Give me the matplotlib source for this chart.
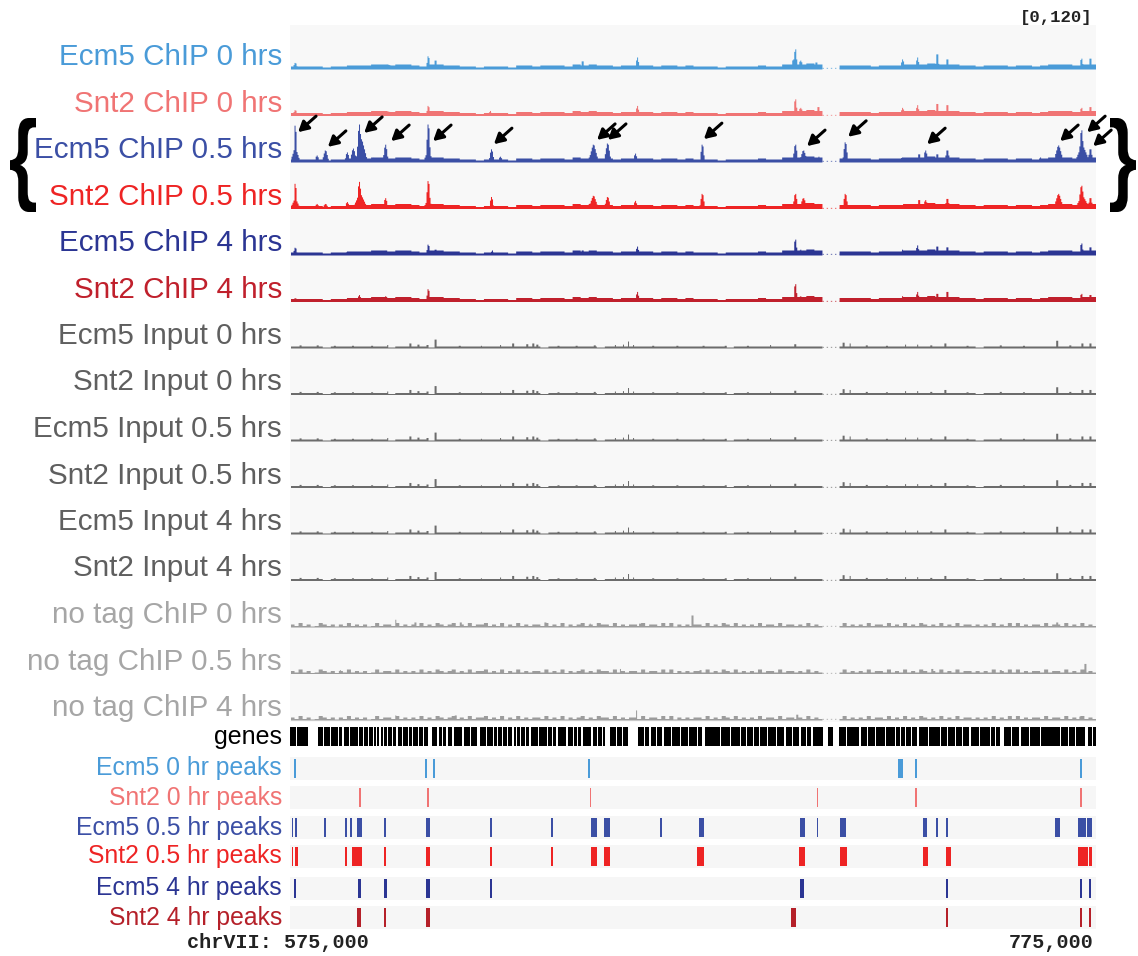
import numpy as np
import matplotlib.pyplot as plt
from matplotlib.textpath import TextPath
from matplotlib.font_manager import FontProperties
from matplotlib.patches import PathPatch
from matplotlib.transforms import Affine2D

W, H = 1138, 956
X0, X1 = 290, 1096
START, END = 575.0, 775.0          # kb on chrVII
YMAX = 120
PX = 120 / 46.5                    # signal units per pixel of track height
GAP = (707.0, 711.3)               # unmappable stretch, no coverage

# ---- signal tracks ----
track_names = [
    "Ecm5 ChIP 0 hrs", "Snt2 ChIP 0 hrs", "Ecm5 ChIP 0.5 hrs", "Snt2 ChIP 0.5 hrs",
    "Ecm5 ChIP 4 hrs", "Snt2 ChIP 4 hrs", "Ecm5 Input 0 hrs", "Snt2 Input 0 hrs",
    "Ecm5 Input 0.5 hrs", "Snt2 Input 0.5 hrs", "Ecm5 Input 4 hrs", "Snt2 Input 4 hrs",
    "no tag ChIP 0 hrs", "no tag ChIP 0.5 hrs", "no tag ChIP 4 hrs",
]
label_colors = ["#4a9bd8", "#f07474", "#3b4fa5", "#ee2424", "#2b3593", "#c0202c"] \
    + ["#5f5f5f"] * 6 + ["#a6a6a6"] * 3
trace_colors = ["#4a9bd8", "#f07474", "#3b4fa5", "#ee2424", "#2b3593", "#c0202c"] \
    + ["#6c6c6c"] * 6 + ["#9c9c9c"] * 3

# background level of the ChIP tracks, px per 2 kb bin
chip_bg = ("3333233" "444" "55455" "43" "5544" "3323" "332" "4434443" "5454" "4344"
           "4434434" "33323333433" "55565" "004" "4443444" "5556555" "44344434434" "555455")

# baseline of the input tracks, px per 2 kb bin
input_bg = ("2222122222" "2212222122" "2222222222" "2122222212" "2222222222"
            "2222122222" "2222222222" "2222222222" "2222212222" "2222222222")

# "grass" of the no-tag tracks, px per 1 kb bin
notag_bg = ("2131201321" "2021312120" "1312213121" "2131213212" "3121312231"
            "2130213121" "2213121302" "1231213221" "3121221312" "2131302121"
            "2213121321" "3121213122" "1312212131" "2100001312" "1213122131"
            "2131213212" "1312131221" "2121312131" "3121221312" "2131213121")

# peaks: (position kb, height, half width kb)
ecm5_0 = [(576.2, 17, 0.6), (599.0, 13, 4.0), (609.2, 34, 0.4), (611.0, 23, 0.5),
          (647.5, 21, 0.5), (661.1, 31, 0.4), (699.8, 26, 0.5), (700.3, 52, 0.4),
          (701.6, 23, 0.8), (705.5, 18, 0.6), (726.9, 26, 0.5), (730.6, 31, 0.4),
          (735.5, 39, 0.4), (738.0, 26, 0.4), (771.3, 28, 0.4), (773.5, 28, 0.4)]
snt2_0 = [(576.2, 15, 0.6), (599.0, 12, 4.0), (609.2, 26, 0.4), (624.6, 13, 0.4),
          (661.1, 26, 0.4), (700.3, 43, 0.4), (701.6, 21, 0.8), (706.0, 23, 0.4),
          (726.9, 21, 0.5), (730.6, 28, 0.4), (735.5, 31, 0.4), (738.0, 28, 0.4),
          (771.3, 21, 0.4), (773.5, 23, 0.4)]
ecm5_05 = [(576.2, 95, 0.3), (576.2, 36, 1.2), (581.6, 18, 0.6), (583.7, 31, 0.8),
           (589.1, 26, 0.6), (590.6, 36, 0.8), (592.1, 98, 0.6), (592.6, 60, 1.5),
           (595.6, 13, 1.0), (598.6, 46, 0.6), (609.2, 98, 0.5), (609.2, 30, 1.2),
           (624.9, 34, 0.6), (627.1, 15, 0.6), (650.2, 46, 1.2), (653.7, 49, 0.8),
           (660.6, 23, 0.5), (677.2, 46, 0.5), (700.3, 46, 0.6), (702.3, 31, 1.0),
           (706.1, 15, 0.6), (712.7, 52, 0.6), (726.8, 13, 0.5), (731.0, 21, 0.5),
           (732.6, 31, 0.6), (735.5, 21, 0.5), (738.0, 31, 0.6), (761.1, 13, 0.5),
           (765.6, 44, 1.2), (771.3, 83, 0.6), (771.5, 45, 1.8), (773.5, 34, 0.6)]
snt2_05 = [(576.2, 65, 0.3), (576.2, 26, 1.2), (581.6, 13, 0.6), (583.7, 13, 0.8),
           (589.1, 18, 0.6), (592.1, 70, 0.6), (592.3, 40, 1.8), (595.6, 13, 1.0),
           (598.6, 28, 0.6), (609.2, 72, 0.5), (609.2, 25, 1.2), (624.9, 31, 0.5),
           (650.2, 34, 1.2), (653.7, 31, 0.8), (660.6, 21, 0.5), (677.2, 39, 0.6),
           (700.3, 39, 0.6), (702.3, 28, 1.0), (706.0, 13, 0.6), (712.7, 39, 0.6),
           (731.0, 23, 0.5), (732.6, 23, 0.6), (738.0, 26, 0.6), (765.6, 39, 1.2),
           (771.3, 60, 0.8), (771.5, 35, 1.8), (773.5, 28, 0.6)]
ecm5_4 = [(576.2, 20, 0.5), (589.5, 10, 3.0), (598.6, 13, 0.5), (609.2, 28, 0.4),
          (611.0, 15, 0.5), (625.1, 13, 0.4), (647.5, 13, 0.5), (661.1, 23, 0.4),
          (700.3, 41, 0.4), (701.6, 15, 0.8), (702.3, 13, 0.5), (726.9, 15, 0.5),
          (730.6, 26, 0.4), (735.5, 23, 0.4), (738.0, 21, 0.4), (771.3, 31, 0.4),
          (773.5, 21, 0.4)]
snt2_4 = [(576.2, 10, 0.5), (592.1, 18, 0.5), (598.6, 15, 0.5), (609.2, 33, 0.4),
          (661.1, 26, 0.4), (700.3, 46, 0.4), (701.6, 15, 0.8), (726.9, 15, 0.5),
          (730.6, 26, 0.4), (735.5, 21, 0.4), (738.0, 26, 0.4), (771.3, 21, 0.4),
          (773.5, 18, 0.4)]
input_spikes = [(577.5, 8), (581.7, 8), (586.0, 7), (590.5, 7), (595.2, 7), (599.1, 9),
                (604.8, 13), (606.8, 10), (609.0, 9), (611.0, 23), (617.0, 7), (622.4, 7),
                (627.1, 9), (630.3, 13), (633.8, 11), (635.3, 13), (636.3, 10), (641.5, 7),
                (646.0, 7), (650.5, 8), (655.6, 9), (657.6, 10), (658.9, 18), (660.1, 9),
                (665.0, 7), (671.0, 7), (677.5, 7), (683.0, 7), (688.5, 7), (694.1, 9),
                (700.3, 11), (712.2, 15), (713.9, 13), (718.0, 8), (723.0, 7), (727.6, 10),
                (730.6, 10), (734.0, 8), (737.5, 13), (743.0, 7), (751.2, 8), (757.0, 7),
                (765.3, 20), (768.5, 8), (771.5, 13), (773.5, 13)]
notag0_spikes = [(601.1, 20), (606.0, 13), (617.2, 13), (638.3, 13), (649.4, 10),
                 (661.8, 10), (674.7, 31), (765.3, 13)]
notag05_spikes = [(587.4, 10), (656.9, 13), (676.7, 10), (734.3, 13), (751.2, 10), (772.3, 26)]
notag4_spikes = [(601.1, 13), (616.0, 13), (660.9, 26), (700.8, 15), (771.0, 10)]

# arrows in the Ecm5 0.5 hrs track: tip position (kb, height)
arrow_tips = [(577.0, 77), (584.4, 39), (593.4, 75), (600.1, 54), (610.5, 54), (625.6, 46),
              (651.2, 57), (653.9, 57), (677.7, 59), (703.3, 41), (713.5, 65), (733.1, 46),
              (766.1, 54), (772.8, 77), (774.3, 41)]

# ---- genes: white gaps between black gene blocks (kb) ----
gene_gaps = [(576.4, 576.7), (577.9, 578.1), (579.5, 581.9), (583.1, 583.4), (584.9, 585.1),
             (586.8, 587.1), (588.0, 588.3), (589.6, 589.8), (590.8, 591.0), (591.8, 592.1),
             (593.0, 593.3), (594.4, 594.6), (595.5, 595.8), (596.4, 596.6), (597.2, 597.5),
             (598.1, 598.3), (599.0, 599.3), (600.3, 600.5), (601.4, 601.7), (602.9, 603.1),
             (604.2, 604.5), (605.2, 605.5), (606.7, 607.0), (608.0, 608.2), (609.2, 610.2),
             (611.6, 611.9), (612.7, 612.9), (613.8, 614.1), (615.3, 615.6), (616.6, 616.8),
             (617.8, 618.1), (619.6, 619.8), (621.4, 622.1), (623.6, 623.8), (625.3, 625.6),
             (626.4, 626.6), (627.5, 627.8), (628.9, 629.1), (630.2, 630.5), (631.2, 631.4),
             (632.0, 632.3), (633.3, 633.5), (634.4, 634.7), (636.5, 636.7), (638.7, 639.0),
             (640.0, 640.2), (641.1, 641.4), (642.4, 642.6), (643.6, 643.9), (645.1, 645.4),
             (646.3, 646.5), (647.3, 647.6), (648.6, 648.8), (649.8, 650.1), (651.3, 651.5),
             (652.3, 652.6), (653.2, 654.4), (656.0, 656.2), (657.5, 657.7), (658.9, 661.3),
             (662.8, 663.0), (664.2, 664.5), (665.9, 666.1), (667.4, 667.7), (669.5, 669.7),
             (671.7, 672.0), (673.8, 674.0), (675.9, 676.2), (677.2, 678.0), (679.6, 679.8),
             (681.6, 681.9), (684.3, 684.5), (686.6, 686.9), (688.2, 688.4), (689.8, 690.1),
             (691.5, 691.7), (693.3, 693.6), (695.6, 695.8), (697.7, 698.0), (699.5, 699.7),
             (701.4, 701.7), (703.0, 703.2), (704.4, 704.7), (707.2, 708.6), (709.8, 711.2),
             (713.0, 713.2), (714.6, 714.8), (716.3, 716.6), (718.3, 718.5), (720.1, 720.4),
             (722.6, 722.8), (725.0, 725.3), (726.4, 726.6), (727.5, 727.8), (729.2, 729.4),
             (730.7, 731.0), (733.4, 733.6), (736.2, 736.5), (738.1, 738.3), (739.9, 740.2),
             (741.8, 742.0), (743.6, 743.9), (746.0, 746.2), (748.6, 748.9), (750.0, 750.2),
             (751.2, 752.2), (753.9, 754.1), (756.0, 756.3), (758.4, 758.6), (761.0, 761.3),
             (763.5, 763.7), (766.0, 766.3), (768.0, 768.2), (769.7, 770.0), (771.2, 771.4),
             (772.3, 773.0), (774.0, 774.2)]

# ---- peak calls ----
peak_names = ["Ecm5 0 hr peaks", "Snt2 0 hr peaks", "Ecm5 0.5 hr peaks",
              "Snt2 0.5 hr peaks", "Ecm5 4 hr peaks", "Snt2 4 hr peaks"]
peak_colors = ["#4a9bd8", "#f07474", "#3b4fa5", "#ee2424", "#2b3593", "#b52029"]
peaks_ecm5_0 = [(576.0, 576.4), (608.6, 609.0), (610.5, 610.9), (649.0, 649.4),
                (725.9, 727.0), (730.1, 730.5), (771.1, 771.5)]
peaks_snt2_0 = [(592.2, 592.5), (608.9, 609.6), (649.4, 649.8), (705.7, 706.1),
                (730.2, 730.6), (771.1, 771.5)]
peaks_ecm5_05 = [(575.4, 575.8), (576.2, 576.8), (583.5, 583.9), (588.7, 589.1),
                 (589.9, 590.3), (591.6, 592.9), (598.3, 598.9), (608.8, 609.8),
                 (624.7, 625.1), (639.8, 640.2), (649.7, 651.2), (652.9, 654.4),
                 (666.9, 667.3), (676.6, 677.7), (701.6, 702.7), (705.7, 706.1),
                 (711.6, 712.9), (732.0, 733.1), (735.3, 735.7), (737.7, 738.3),
                 (764.8, 766.1), (770.5, 772.5), (772.8, 773.9)]
peaks_snt2_05 = [(575.5, 575.8), (576.2, 576.9), (588.7, 589.1), (590.3, 592.9),
                 (598.3, 598.9), (608.8, 609.8), (624.7, 625.1), (639.8, 640.2),
                 (649.7, 651.2), (652.9, 654.4), (675.9, 677.7), (701.3, 702.8),
                 (711.6, 713.1), (732.1, 733.2), (737.8, 739.0), (770.5, 773.0),
                 (773.2, 774.1)]
peaks_ecm5_4 = [(576.0, 576.4), (591.8, 592.5), (598.3, 599.0), (608.8, 609.8),
                (624.7, 625.1), (701.6, 702.6), (737.7, 738.3), (771.1, 771.6), (773.3, 773.8)]
peaks_snt2_4 = [(591.7, 592.6), (598.3, 598.9), (608.8, 609.7), (699.3, 700.6),
                (737.7, 738.3), (771.1, 771.6), (773.3, 773.8)]

plt.rcParams["font.family"] = ["Liberation Sans", "DejaVu Sans"]

grid = np.arange(START, END, 0.25) + 0.125


def build_profile(floor, bg, bg_step, bg_scale, peaks, spikes):
    y = np.full_like(grid, floor)
    if bg:
        vals = np.array([int(c) for c in bg]) * PX * bg_scale
        idx = np.clip(((grid - START) // bg_step).astype(int), 0, len(vals) - 1)
        y = np.maximum(y, vals[idx])
    for c, h, w in peaks:
        d = np.maximum(np.abs(grid - c) - 0.125, 0)
        y = np.maximum(y, h * np.clip(1 - d / w, 0, 1))
    for c, h in spikes:
        y = np.maximum(y, np.where(np.abs(grid - c) <= 0.2, h, 0))
    y[(grid > GAP[0]) & (grid < GAP[1])] = 0
    return y


def px_axes(fig, left, top, width, height):
    return fig.add_axes([left / W, 1 - (top + height) / H, width / W, height / H])


fig = plt.figure(figsize=(W / 100, H / 100), dpi=100)

panel = px_axes(fig, X0, 25, X1 - X0, 697)
panel.set_facecolor("#f8f8f8")
panel.set_xticks([])
panel.set_yticks([])
for s in panel.spines.values():
    s.set_visible(False)

chip_peaks = [ecm5_0, snt2_0, ecm5_05, snt2_05, ecm5_4, snt2_4]
notag_spikes = [notag0_spikes, notag05_spikes, notag4_spikes]

track_axes = []
for i, name in enumerate(track_names):
    base = 69 + 46.5 * i
    ax = px_axes(fig, X0, base - 46.5, X1 - X0, 46.5)
    ax.set_xlim(START, END)
    ax.set_ylim(0, YMAX)
    ax.axis("off")
    if i < 6:
        prof = build_profile(1.5 * PX, chip_bg, 2.0, 1.0, chip_peaks[i], [])
    elif i < 12:
        prof = build_profile(0, input_bg, 2.0, 1.0, [], input_spikes)
    else:
        prof = build_profile(1.0 * PX, notag_bg, 1.0, 1.5, [], notag_spikes[i - 12])
    ax.fill_between(grid, 0, prof, step="mid", color=trace_colors[i], lw=0)
    ax.plot(GAP, [1.5, 1.5], ls=(0, (1, 2)), color=trace_colors[i], lw=1, alpha=0.6)
    track_axes.append(ax)

# arrows pointing at Ecm5 0.5 hrs peaks
ax3 = track_axes[2]
for kb, h in arrow_tips:
    ax3.annotate("", xy=(kb, h), xytext=(18, 16), textcoords="offset pixels",
                 annotation_clip=False,
                 arrowprops=dict(arrowstyle="-|>,head_length=0.4,head_width=0.22",
                                 color="black", lw=2.2, shrinkA=0, shrinkB=0,
                                 mutation_scale=15))

# genes track
gax = px_axes(fig, X0, 727, X1 - X0, 19)
gax.set_xlim(START, END)
gax.set_ylim(0, 1)
gax.axis("off")
edges = [START] + [v for g in gene_gaps for v in g] + [END]
blocks = [(edges[k], edges[k + 1] - edges[k]) for k in range(0, len(edges), 2)]
gax.broken_barh(blocks, (0, 1), color="black", lw=0)

# peak call rows
peak_sets = [peaks_ecm5_0, peaks_snt2_0, peaks_ecm5_05, peaks_snt2_05, peaks_ecm5_4, peaks_snt2_4]
row_tops = [757, 786, 816, 845, 877, 906]
for top, pks, col in zip(row_tops, peak_sets, peak_colors):
    pax = px_axes(fig, X0, top, X1 - X0, 23)
    pax.set_xlim(START, END)
    pax.set_ylim(0, 1)
    pax.set_facecolor("#f6f6f6")
    pax.set_xticks([])
    pax.set_yticks([])
    for s in pax.spines.values():
        s.set_visible(False)
    pax.broken_barh([(a, max(b - a, 0.35)) for a, b in pks], (0.1, 0.8), color=col, lw=0)

# overlay in pixel coordinates for text and braces
ov = fig.add_axes([0, 0, 1, 1])
ov.set_xlim(0, W)
ov.set_ylim(H, 0)
ov.axis("off")
ov.set_facecolor("none")

for i, name in enumerate(track_names):
    ov.text(282, 57 + 46.5 * i, name, ha="right", va="center", fontsize=21.3,
            color=label_colors[i])
ov.text(282, 737, "genes", ha="right", va="center", fontsize=18, color="black")
for top, name, col in zip(row_tops, peak_names, peak_colors):
    ov.text(282, top + 11.5, name, ha="right", va="center", fontsize=17.8, color=col)

mono = dict(family=["Liberation Mono", "DejaVu Sans Mono"], weight="bold", color="#222222")
ov.text(1093, 17, "[0,120]", ha="right", va="center", fontsize=12.5, **mono)
ov.text(187, 943, "chrVII: 575,000", ha="left", va="center", fontsize=14.5, **mono)
ov.text(1094, 943, "775,000", ha="right", va="center", fontsize=14.5, **mono)


def brace(ch, x0, x1, y0, y1):
    tp = TextPath((0, 0), ch, size=100, prop=FontProperties(family="Liberation Sans", weight="bold"))
    ext = tp.get_extents()
    tr = Affine2D().translate(-ext.x0, -ext.y1) \
        .scale((x1 - x0) / ext.width, -(y1 - y0) / ext.height).translate(x0, y0)
    ov.add_patch(PathPatch(tr.transform_path(tp), facecolor="black", lw=0))


brace("{", 10, 36, 118, 212)
brace("}", 1110, 1136, 118, 212)

fig.savefig("out.png", dpi=100)
